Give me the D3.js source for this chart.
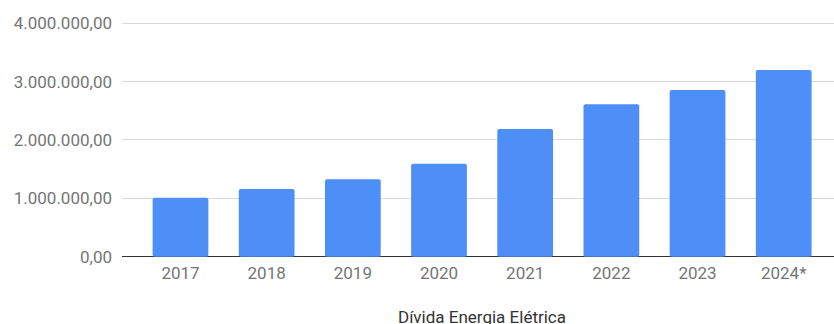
<!DOCTYPE html>
<html>
<head>
<meta charset="utf-8">
<script src="https://cdn.jsdelivr.net/npm/d3@7"></script>
<style>
  html, body { margin: 0; padding: 0; background: #fff; }
  svg { display: block; }
</style>
</head>
<body>
<svg id="chart" width="834" height="324"></svg>
<script>
const years = ["2017", "2018", "2019", "2020", "2021", "2022", "2023", "2024*"];
const debt = [1000000, 1150000, 1320000, 1585000, 2180000, 2600000, 2845000, 3187000];
const yTicks = [0, 1000000, 2000000, 3000000, 4000000];
const xTitle = "Dívida Energia Elétrica";

const W = 834, H = 324;
const svg = d3.select("#chart");

const ptBR = d3.formatLocale({ decimal: ",", thousands: ".", grouping: [3], currency: ["R$ ", ""] });
const fmt = ptBR.format(",.2f");

const gridLeft = 122, gridRight = W;
const y = d3.scaleLinear().domain([0, 4000000]).range([256.3, 22.5]);
const x = d3.scaleBand()
  .domain(years)
  .range([137.4, 826.8])
  .paddingInner(0.353)
  .paddingOuter(0.1765);

// horizontal gridlines
const yAxis = d3.axisLeft(y).tickValues(yTicks).tickFormat(fmt).tickSize(0).tickPadding(0);
const gy = svg.append("g").attr("transform", `translate(${gridLeft},0)`).call(yAxis);
gy.select(".domain").remove();
gy.selectAll(".tick line")
  .attr("x2", gridRight - gridLeft)
  .attr("stroke", d => d === 0 ? "#333" : "#d9d9d9")
  .attr("stroke-width", 1)
  .attr("shape-rendering", "crispEdges");
gy.selectAll(".tick text")
  .attr("x", -10)
  .attr("dy", "0.36em")
  .attr("fill", "#757575")
  .style("font-family", "Roboto, sans-serif")
  .style("font-size", "17px");

// bars
svg.append("g").selectAll("rect")
  .data(years.map((yr, i) => ({ yr, v: debt[i] })))
  .join("rect")
  .attr("x", d => x(d.yr))
  .attr("width", x.bandwidth())
  .attr("y", d => y(d.v))
  .attr("height", d => y(0) - y(d.v) + 0.5)
  .attr("rx", 2)
  .attr("fill", "#4e8ef7");

// category axis
const xAxis = d3.axisBottom(x).tickSize(0).tickPadding(0);
const gx = svg.append("g").attr("transform", "translate(0,279)").call(xAxis);
gx.select(".domain").remove();
gx.selectAll(".tick text")
  .attr("y", 0)
  .attr("dy", 0)
  .attr("fill", "#757575")
  .style("font-family", "Roboto, sans-serif")
  .style("font-size", "17px");

// axis title
svg.append("text")
  .attr("x", 482)
  .attr("y", 322.5)
  .attr("text-anchor", "middle")
  .attr("fill", "#333")
  .style("font-family", "Roboto, sans-serif")
  .style("font-size", "17px")
  .text(xTitle);
</script>
</body>
</html>
